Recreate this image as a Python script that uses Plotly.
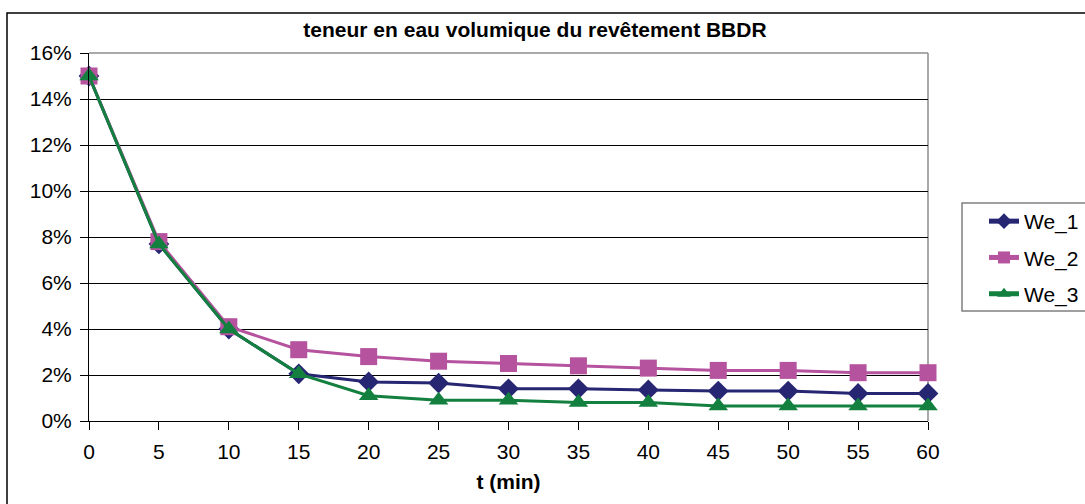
import plotly.graph_objects as go

# Time in minutes
t_min = [0, 5, 10, 15, 20, 25, 30, 35, 40, 45, 50, 55, 60]

# Volumetric water content (%) of the BBDR surfacing
we_1 = [15.0, 7.7, 4.0, 2.05, 1.7, 1.65, 1.4, 1.4, 1.35, 1.3, 1.3, 1.2, 1.2]
we_2 = [15.0, 7.8, 4.1, 3.1, 2.8, 2.6, 2.5, 2.4, 2.3, 2.2, 2.2, 2.1, 2.1]
we_3 = [15.0, 7.7, 4.0, 2.05, 1.1, 0.9, 0.9, 0.8, 0.8, 0.65, 0.65, 0.65, 0.65]

y_ticks = [0, 2, 4, 6, 8, 10, 12, 14, 16]
y_tick_text = [f"{v}%" for v in y_ticks]
x_ticks = t_min

FONT = "Liberation Sans"

W, H = 1085, 504
L, R, T, B = 89, 157, 53, 83
PW, PH = W - L - R, H - T - B


def px_x(p):
    return (p - L) / PW


def px_y(p):
    return (H - B - p) / PH


series = [
    ("We_1", we_1, "#262673", "diamond", 16),
    ("We_2", we_2, "#B5539F", "square", 17),
    ("We_3", we_3, "#13803F", "triangle-up", 17),
]

fig = go.Figure()
for name, vals, color, symbol, size in series:
    fig.add_trace(go.Scatter(
        x=t_min, y=vals, name=name, mode="lines+markers",
        legendgroup=name,
        line=dict(color=color, width=3),
        marker=dict(symbol=symbol, size=size, color=color),
        cliponaxis=False,
    ))

fig.update_layout(
    width=W, height=H,
    margin=dict(l=L, r=R, t=T, b=B, autoexpand=False),
    paper_bgcolor="white", plot_bgcolor="white",
    font=dict(family=FONT, size=21, color="black"),
    title=dict(
        text="<b>teneur en eau volumique du revêtement BBDR</b>",
        x=535 / W, xanchor="center", xref="container",
        y=1 - 30 / H, yanchor="middle",
        font=dict(family=FONT, size=21, color="black"),
    ),
    showlegend=True,
    legend=dict(
        x=px_x(984), xanchor="left",
        y=px_y(201), yanchor="top",
        bgcolor="rgba(0,0,0,0)", borderwidth=0,
        tracegroupgap=6,
        itemsizing="constant",
        font=dict(family=FONT, size=21, color="black"),
    ),
    xaxis=dict(
        range=[0, 60], tickvals=x_ticks, ticktext=[str(v) for v in x_ticks],
        showgrid=False, zeroline=False,
        showline=True, linecolor="black", linewidth=1,
        ticks="outside", ticklen=8, tickcolor="black",
        ticklabelstandoff=4,
        title=dict(text="<b>t (min)</b>", standoff=12,
                   font=dict(family=FONT, size=21, color="black")),
    ),
    yaxis=dict(
        range=[0, 16], tickvals=y_ticks, ticktext=y_tick_text,
        showgrid=True, gridcolor="black", gridwidth=1,
        zeroline=False,
        showline=True, linecolor="black", linewidth=1,
        ticks="outside", ticklen=8, tickcolor="black",
        ticklabelstandoff=4,
    ),
    shapes=[
        # grey frame on the top and right of the plot area
        dict(type="line", xref="paper", yref="paper", x0=0, x1=1, y0=1, y1=1,
             line=dict(color="#8C8C8C", width=1.5), layer="between"),
        dict(type="line", xref="paper", yref="paper", x0=1, x1=1, y0=0, y1=1,
             line=dict(color="#8C8C8C", width=1.5), layer="between"),
        # outer chart frame
        dict(type="rect", xref="paper", yref="paper",
             x0=px_x(7), x1=px_x(1200), y0=px_y(600), y1=px_y(13),
             line=dict(color="black", width=1.5), fillcolor="rgba(0,0,0,0)"),
        # legend frame
        dict(type="rect", xref="paper", yref="paper",
             x0=px_x(962), x1=px_x(1200), y0=px_y(311), y1=px_y(203),
             line=dict(color="#808080", width=1.5), fillcolor="rgba(0,0,0,0)"),
    ],
)

fig.write_html("out.html")
